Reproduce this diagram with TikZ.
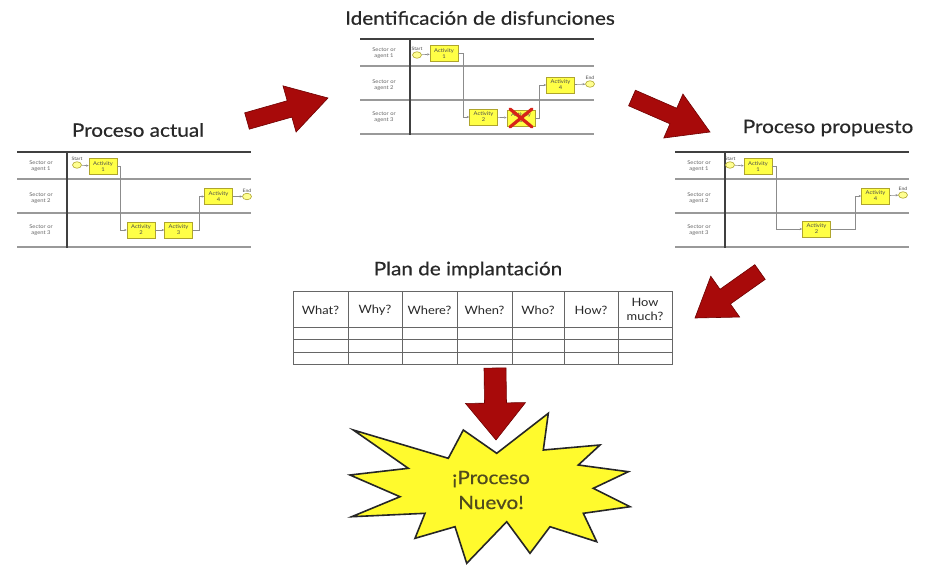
\documentclass[tikz,border=0pt]{standalone}
\usepackage{fontspec}
\setmainfont{Lato}[FakeStretch=1.12]
\newfontfamily\titlefont{Lato}[FakeStretch=1.12,FakeBold=0.5]
\usetikzlibrary{calc,arrows.meta,shapes.geometric}
\definecolor{arrred}{RGB}{168,10,10}
\definecolor{arredge}{RGB}{110,0,0}
\definecolor{boxyel}{RGB}{255,255,70}
\definecolor{boxedge}{RGB}{175,165,45}
\definecolor{titlegray}{RGB}{40,40,40}
\definecolor{burstyel}{RGB}{255,250,45}
\definecolor{bursttext}{RGB}{80,75,30}
\definecolor{xred}{RGB}{215,35,25}
\tikzset{
 title/.style={font=\titlefont\fontsize{18.5}{20}\selectfont, text=titlegray, inner sep=0pt},
 act/.style={draw=boxedge, fill=boxyel, line width=0.6pt, minimum width=28pt, minimum height=16pt, inner sep=0pt, align=center, font=\fontsize{5.2}{6}\selectfont, text=black!70},
 evt/.style={ellipse, draw=boxedge, fill=boxyel!60, line width=0.6pt, minimum width=9pt, minimum height=6.5pt, inner sep=0pt},
 lanelbl/.style={font=\fontsize{5.2}{5.6}\selectfont, text=black!60, align=center, inner sep=0pt},
 evlbl/.style={font=\fontsize{4.6}{5}\selectfont, text=black!70, inner sep=0.5pt},
 flow/.style={draw=black!45, line width=0.6pt, -{Stealth[length=2.5pt,width=2.2pt]}},
 topline/.style={draw=black!75, line width=1.2pt},
 laneline/.style={draw=black!40, line width=1.4pt},
 bigarr/.style={fill=arrred, draw=arredge, line width=0.6pt, line join=miter},
 burst/.style={fill=burstyel, draw=black!85, line width=1.6pt, line join=miter},
 gridline/.style={draw=black!60, line width=0.9pt},
 hdr/.style={font=\fontsize{11.5}{14}\selectfont, text=titlegray, align=center, inner sep=0pt},
 xmark/.style={draw=xred, line width=3.2pt, line cap=round}
}
\newcommand\laneframe[1]{%
 \draw[laneline] (0,27) -- (234,27) (0,61) -- (234,61) (0,95) -- (234,95);
 \draw[topline] (0,0) -- (234,0);
 \draw[topline] (50,0) -- (50,96);
 \node[lanelbl] (#1-l1) at (24,14) {Sector or\\agent 1};
 \node[lanelbl] (#1-l2) at (24,46) {Sector or\\agent 2};
 \node[lanelbl] (#1-l3) at (24,78) {Sector or\\agent 3};
}
\newcommand\blockarrow[5]{%
 \coordinate (#1-hb) at ($(#2)!#5!(#1)$);
 \draw[bigarr] ($(#1)!#3!90:(#2)$) -- ($(#1-hb)!#3!90:(#2)$) -- ($(#1-hb)!#4!90:(#2)$) -- (#2) -- ($(#1-hb)!#4!-90:(#2)$) -- ($(#1-hb)!#3!-90:(#2)$) -- ($(#1)!#3!-90:(#2)$) -- cycle;
}
\begin{document}
\begin{tikzpicture}[x=1pt,y=-1pt]
\useasboundingbox (0,0) rectangle (925,568);
\fill[white] (0,0) rectangle (925,568);

% titles
\node[title] (t1) at (480,18) {Identificación de disfunciones};
\node[title] (t0) at (138,130) {Proceso actual};
\node[title] (t2) at (828,128) {Proceso propuesto};
\node[title] (t3) at (468,270) {Plan de implantación};

% left: current process
\begin{scope}[shift={(17,152)}]
 \laneframe{A}
 \node[evt] (A-s) at (60,13) {};
 \node[evlbl, anchor=south] (A-st) at (A-s.north) {Start};
 \node[act] (A-1) at (86,14.5) {Activity\\1};
 \node[act] (A-2) at (124,78) {Activity\\2};
 \node[act] (A-3) at (161.5,78) {Activity\\3};
 \node[act] (A-4) at (201.5,44.5) {Activity\\4};
 \node[evt] (A-e) at (230,44.5) {};
 \node[evlbl, anchor=south] (A-en) at (A-e.north) {End};
 \draw[flow] (A-s) -- (A-1);
 \draw[flow] (A-1.east) -- ++(3,0) |- (A-2);
 \draw[flow] (A-2) -- (A-3);
 \draw[flow] (A-3.east) -- ++(6,0) |- (A-4);
 \draw[flow] (A-4) -- (A-e);
\end{scope}

% middle: dysfunctions
\begin{scope}[shift={(360,39)}]
 \laneframe{B}
 \node[evt] (B-s) at (57,16) {};
 \node[evlbl, anchor=south] (B-st) at (B-s.north) {Start};
 \node[act] (B-1) at (84,14.5) {Activity\\1};
 \node[act] (B-2) at (123.5,78) {Activity\\2};
 \node[act] (B-3) at (161,79) {Activity\\3};
 \node[act] (B-4) at (200.5,46) {Activity\\4};
 \node[evt] (B-e) at (230,45) {};
 \node[evlbl, anchor=south] (B-en) at (B-e.north) {End};
 \draw[flow] (B-s) -- (B-1);
 \draw[flow] (B-1.east) -- ++(5,0) |- (B-2);
 \draw[flow] (B-2) -- (B-3);
 \draw[flow] (B-3.east) -- ++(4,0) |- (B-4);
 \draw[flow] (B-4) -- (B-e);
 \draw[xmark] ($(B-3.center)+(-11,-9)$) -- ($(B-3.center)+(11,9)$);
 \draw[xmark] ($(B-3.center)+(-11,9)$) -- ($(B-3.center)+(11,-9)$);
\end{scope}

% right: proposed process
\begin{scope}[shift={(675,152)}]
 \laneframe{C}
 \node[evt] (C-s) at (55,13) {};
 \node[evlbl, anchor=south] (C-st) at (C-s.north) {Start};
 \node[act] (C-1) at (83,14.5) {Activity\\1};
 \node[act] (C-2) at (141.5,77) {Activity\\2};
 \node[act] (C-4) at (200.5,44) {Activity\\4};
 \node[evt] (C-e) at (228,43) {};
 \node[evlbl, anchor=south] (C-en) at (C-e.north) {End};
 \draw[flow] (C-s) -- (C-1);
 \draw[flow] (C-1.east) -- ++(4,0) |- (C-2);
 \draw[flow] (C-2.east) -- ++(24,0) |- (C-4);
 \draw[flow] (C-4) -- (C-e);
\end{scope}

% implementation plan table
\draw[gridline] (293,291) rectangle (672,364);
\foreach \x in {348,402,457,512,564,618} \draw[gridline] (\x,291) -- (\x,364);
\foreach \y in {327,339,352} \draw[gridline] (293,\y) -- (672,\y);
\node[hdr] (h1) at (320.5,310) {What?};
\node[hdr] (h2) at (375,310) {Why?};
\node[hdr] (h3) at (429.5,310) {Where?};
\node[hdr] (h4) at (484.5,310) {When?};
\node[hdr] (h5) at (538,310) {Who?};
\node[hdr] (h6) at (591,310) {How?};
\node[hdr] (h7) at (645,309) {How\\much?};

% big arrows
\coordinate (a1t) at (247,121); \coordinate (a1h) at (328,98);
\coordinate (a2t) at (632,98);  \coordinate (a2h) at (710,132);
\coordinate (a3t) at (760,272); \coordinate (a3h) at (695,318);
\coordinate (a4t) at (495,368); \coordinate (a4h) at (496,440);
\blockarrow{a1t}{a1h}{8.5pt}{24pt}{40pt}
\blockarrow{a2t}{a2h}{8.5pt}{24pt}{40pt}
\blockarrow{a3t}{a3h}{9pt}{25pt}{37pt}

% starburst
\draw[burst] (353.3,430) -- (448.3,458.3) -- (463.3,430) -- (496.7,453.3) -- (548.3,413.3) -- (543.3,450) -- (600,445) -- (578.3,465) -- (628.3,471.7) -- (593.3,488.3) -- (630,506.7) -- (583.3,513.3) -- (596.7,541.7) -- (550,526.7) -- (530,553.3) -- (506.7,521.7) -- (466.7,563.3) -- (455,526.7) -- (415,538.3) -- (425,513.3) -- (351.7,516.7) -- (400,496.7) -- (350,475) -- (408.3,468.3) -- cycle;
\node[font=\titlefont\fontsize{18.5}{25}\selectfont, text=bursttext, align=center] (nuevo) at (491,490) {¡Proceso\\Nuevo!};
\blockarrow{a4t}{a4h}{11pt}{30pt}{37pt}
\end{tikzpicture}
\end{document}
